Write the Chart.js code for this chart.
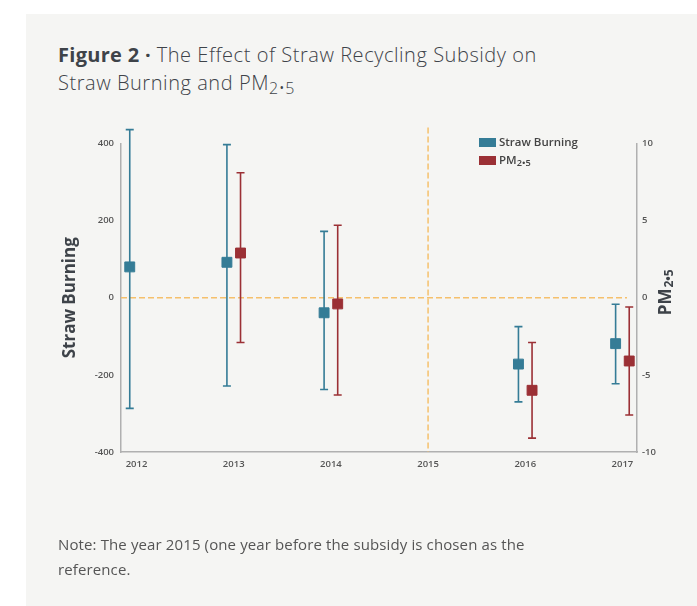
<!DOCTYPE html>
<html>
<head>
<meta charset="utf-8">
<script src="https://cdn.jsdelivr.net/npm/chart.js@4.4.0/dist/chart.umd.min.js"></script>
<style>
  html, body { margin: 0; padding: 0; background: #fff; }
  body { width: 697px; height: 606px; position: relative; overflow: hidden; font-family: "Open Sans", sans-serif; }
  #card { position: absolute; left: 26px; top: 14px; width: 671px; height: 592px; background: #f5f5f3; }
  #title { position: absolute; left: 58px; top: 41px; font-size: 20px; line-height: 28px; color: #3e4349; font-weight: 300; letter-spacing: 0.55px; }
  #title b { font-weight: 700; letter-spacing: 0.3px; }
  #note { position: absolute; left: 58px; top: 532px; font-size: 15px; line-height: 25px; color: #555; letter-spacing: 0.12px; }
  #chart-wrap { position: absolute; left: 0; top: 0; width: 697px; height: 606px; }
  #legend { position: absolute; left: 479px; top: 133px; font-size: 11.5px; font-weight: 600; color: #444; }
  #legend div { height: 18px; line-height: 18px; }
  #legend span.box { display: inline-block; width: 17px; height: 9px; margin-right: 3px; vertical-align: -1px; }
  sub { font-size: 0.8em; vertical-align: -0.25em; }
</style>
</head>
<body>
<div id="card"></div>
<div id="title"><b>Figure 2 ·</b> The Effect of Straw Recycling Subsidy on<br>Straw Burning and PM<sub>2•5</sub></div>
<div id="chart-wrap"><canvas id="chart"></canvas></div>
<div id="legend">
  <div><span class="box" style="background:#357c96"></span>Straw Burning</div>
  <div><span class="box" style="background:#9b3035"></span>PM<sub>2•5</sub></div>
</div>
<div id="note">Note: The year 2015 (one year before the subsidy is chosen as the<br>reference.</div>
<script>
// year ticks on the x axis
const years = [2012, 2013, 2014, 2015, 2016, 2017];
const refYear = 2015;

// Straw burning estimates and 95% intervals (left axis)
const burnYears = [2012, 2013, 2014, 2016, 2017];
const burnEst = [80, 92, -39, -172, -119];
const burnLow = [-287, -229, -238, -270, -223];
const burnHigh = [436, 397, 172, -75, -17];

// PM2.5 estimates and intervals (right axis)
const pmYears = [2013, 2014, 2016, 2017];
const pmEst = [2.9, -0.4, -6.0, -4.1];
const pmLow = [-2.9, -6.3, -9.1, -7.6];
const pmHigh = [8.1, 4.7, -2.9, -0.6];

const blue = "#357c96";
const red = "#9b3035";
const orange = "#f5c06c";
const shift = 0.07; // side-by-side offset of the two series

// dashed reference lines at y = 0 and x = 2015
const refLines = {
  id: "refLines",
  beforeDatasetsDraw(chart) {
    const { ctx, chartArea, scales } = chart;
    const y0 = scales.y.getPixelForValue(0);
    const xr = scales.x.getPixelForValue(refYear);
    ctx.save();
    ctx.strokeStyle = orange;
    ctx.lineWidth = 1.5;
    ctx.setLineDash([6, 3]);
    ctx.beginPath();
    ctx.moveTo(chartArea.left, y0);
    ctx.lineTo(chartArea.right - 10, y0);
    ctx.stroke();
    ctx.beginPath();
    ctx.moveTo(xr, chartArea.top - 16);
    ctx.lineTo(xr, chartArea.bottom);
    ctx.stroke();
    ctx.restore();
  }
};

// whiskers with caps, drawn under the square markers
const errorBars = {
  id: "errorBars",
  beforeDatasetsDraw(chart) {
    const ctx = chart.ctx;
    chart.data.datasets.forEach((ds, i) => {
      if (!ds.low) return;
      const meta = chart.getDatasetMeta(i);
      const yScale = chart.scales[ds.yAxisID];
      ctx.save();
      ctx.strokeStyle = ds.backgroundColor;
      ctx.lineWidth = 1.6;
      meta.data.forEach((pt, j) => {
        const top = yScale.getPixelForValue(ds.high[j]);
        const bot = yScale.getPixelForValue(ds.low[j]);
        ctx.beginPath();
        ctx.moveTo(pt.x, top); ctx.lineTo(pt.x, bot);
        ctx.moveTo(pt.x - 4, top); ctx.lineTo(pt.x + 4, top);
        ctx.moveTo(pt.x - 4, bot); ctx.lineTo(pt.x + 4, bot);
        ctx.stroke();
      });
      ctx.restore();
    });
  }
};

// right axis title with subscript
const rightTitle = {
  id: "rightTitle",
  afterDraw(chart) {
    const { ctx, chartArea } = chart;
    const midY = (chartArea.top + chartArea.bottom) / 2 - 5;
    ctx.save();
    ctx.translate(666, midY);
    ctx.rotate(-Math.PI / 2);
    ctx.fillStyle = "#3e4349";
    ctx.textBaseline = "middle";
    ctx.font = "bold 17px 'Open Sans'";
    const w1 = ctx.measureText("PM").width;
    ctx.font = "bold 12px 'Open Sans'";
    const w2 = ctx.measureText("2•5").width;
    let x = -(w1 + w2) / 2;
    ctx.font = "bold 17px 'Open Sans'";
    ctx.fillText("PM", x, 0);
    ctx.font = "bold 12px 'Open Sans'";
    ctx.fillText("2•5", x + w1 + 1, 4);
    ctx.restore();
  }
};

const tickFont = { family: "Open Sans", size: 9.5, weight: "600" };
const axisBorder = { color: "#b0b0b0", width: 1.5 };

new Chart(document.getElementById("chart"), {
  type: "scatter",
  data: {
    datasets: [
      {
        label: "Straw Burning",
        data: burnYears.map((yr, i) => ({ x: yr - shift, y: burnEst[i] })),
        low: burnLow,
        high: burnHigh,
        yAxisID: "y",
        backgroundColor: blue,
        borderColor: blue,
        pointStyle: "rect",
        pointRadius: 7,
        pointHoverRadius: 7
      },
      {
        label: "PM2.5",
        data: pmYears.map((yr, i) => ({ x: yr + shift, y: pmEst[i] })),
        low: pmLow,
        high: pmHigh,
        yAxisID: "y1",
        backgroundColor: red,
        borderColor: red,
        pointStyle: "rect",
        pointRadius: 7,
        pointHoverRadius: 7
      }
    ]
  },
  options: {
    responsive: true,
    maintainAspectRatio: false,
    animation: false,
    layout: { padding: { top: 143.5, left: 0, right: 0, bottom: 0 } },
    plugins: { legend: { display: false }, tooltip: { enabled: false } },
    scales: {
      x: {
        type: "linear",
        min: 2011.84,
        max: 2017.15,
        grid: { display: false, drawTicks: false },
        border: axisBorder,
        afterFit: (s) => { s.height = 154; },
        afterBuildTicks: (s) => { s.ticks = years.map((v) => ({ value: v })); },
        ticks: {
          color: "#555",
          font: tickFont,
          padding: 7,
          maxRotation: 0,
          callback: (v) => String(v)
        }
      },
      y: {
        position: "left",
        min: -400,
        max: 400,
        grid: { display: false, drawTicks: false },
        border: axisBorder,
        afterFit: (s) => { s.width = 121; },
        ticks: { stepSize: 200, color: "#555", font: tickFont, padding: 7 },
        title: {
          display: true,
          text: "Straw Burning",
          color: "#3e4349",
          font: { family: "Open Sans", size: 17, weight: "bold" },
          padding: { top: 60, bottom: 0 }
        }
      },
      y1: {
        position: "right",
        min: -10,
        max: 10,
        grid: { display: false, drawTicks: false },
        border: axisBorder,
        afterFit: (s) => { s.width = 60; },
        ticks: { stepSize: 5, color: "#555", font: tickFont, padding: 5 }
      }
    }
  },
  plugins: [refLines, errorBars, rightTitle]
});
</script>
</body>
</html>
